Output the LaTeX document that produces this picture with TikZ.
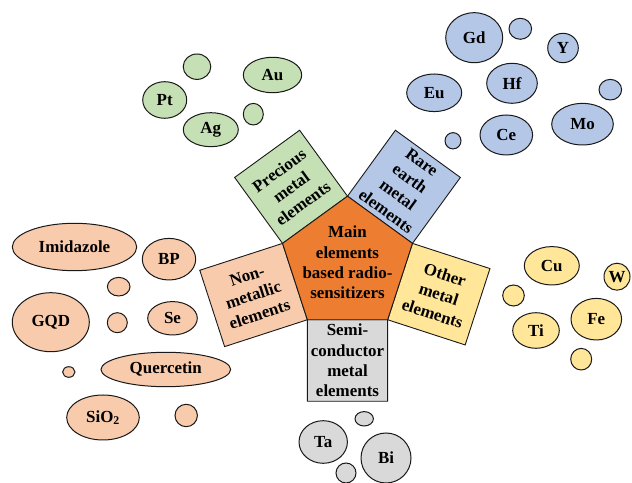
\documentclass[tikz,border=0pt]{standalone}
\usepackage{fontspec}
\setmainfont{Liberation Serif}
\usetikzlibrary{shapes.geometric,calc}
\definecolor{cgreen}{HTML}{C5E0B4}
\definecolor{cblue}{HTML}{B4C7E7}
\definecolor{cyellow}{HTML}{FFE699}
\definecolor{cpeach}{HTML}{F8CBAD}
\definecolor{cgray}{HTML}{D9D9D9}
\definecolor{corange}{HTML}{ED7D31}
\tikzset{
  lbl/.style={font=\fontsize{17}{20.4}\selectfont\bfseries, align=center, text=black},
  bub/.style={ellipse, draw=black!90, line width=1bp, inner sep=0pt, font=\fontsize{17}{20.4}\selectfont\bfseries},
  sz/.style 2 args={minimum width=#1bp, minimum height=#2bp},
  gb/.style={bub, fill=cgreen},
  bb/.style={bub, fill=cblue},
  yb/.style={bub, fill=cyellow},
  pb/.style={bub, fill=cpeach},
  sb/.style={bub, fill=cgray},
  panel/.style={draw=black!90, line width=0.9bp},
}
\begin{document}
\begin{tikzpicture}[x=1bp,y=1bp]
\useasboundingbox (0,0) rectangle (632,483);
\coordinate (C) at (347.5,218.5);
\def\R{68.3}
\def\S{81.5}
\path (C) ++(90:\R) coordinate (V1);
\path (C) ++(162:\R) coordinate (V2);
\path (C) ++(234:\R) coordinate (V3);
\path (C) ++(306:\R) coordinate (V4);
\path (C) ++(18:\R) coordinate (V5);
% squares
\draw[panel, fill=cgreen] (V1) -- (V2) -- ++(126:\S) -- ++(36:80.3) -- cycle;
\draw[panel, fill=cblue] (V5) -- (V1) -- ++(54:\S) -- ++(-36:80.3) -- cycle;
\draw[panel, fill=cyellow] (V4) -- (V5) -- ++(-18:\S) -- ++(-108:80.3) -- cycle;
\draw[panel, fill=cgray] (V3) -- (V4) -- ++(270:\S) -- ++(180:80.3) -- cycle;
\draw[panel, fill=cpeach] (V2) -- (V3) -- ++(198:87) -- ++(108:80.3) -- cycle;
% pentagon
\draw[panel, fill=corange] (V1) -- (V2) -- (V3) -- (V4) -- (V5) -- cycle;
% labels
\node[lbl] (main) at ($(C)+(0,2)$) {Main\\elements\\based radio-\\sensitizers};
\path (C) ++(126:96) node[lbl, rotate=36] (prec) {Precious\\metal\\elements};
\path (C) ++(54:96) node[lbl, rotate=-36] (rare) {Rare\\earth\\metal\\elements};
\path (C) ++(-18:96) node[lbl, rotate=-18] (other) {Other\\metal\\elements};
\path (C) ++(270:96) node[lbl] (semi) {Semi-\\conductor\\metal\\elements};
\path (C) ++(198:99) node[lbl, rotate=18] (nonm) {Non-\\metallic\\elements};
% green bubbles
\node[gb, sz={44}{36.6}] (pt) at (164.7,383) {Pt};
\node[gb, sz={27.6}{25.4}] (g1) at (197,416.3) {};
\node[gb, sz={58.4}{35.4}] (au) at (272.5,408) {Au};
\node[gb, sz={55}{34}] (ag) at (210.8,353.3) {Ag};
\node[gb, sz={20}{21.6}] (g2) at (253.3,368.8) {};
% blue bubbles
\node[bb, sz={57}{50}] (gd) at (474.2,445.3) {Gd};
\node[bb, sz={22.6}{21}] (b1) at (520.3,454.2) {};
\node[bb, sz={30.6}{29.4}] (y) at (563,435) {Y};
\node[bb, sz={50.6}{40}] (hf) at (512,399.7) {Hf};
\node[bb, sz={55}{37.6}] (eu) at (434.2,390.2) {Eu};
\node[bb, sz={22.6}{20.6}] (b2) at (610.3,393.3) {};
\node[bb, sz={61.6}{41.6}] (mo) at (582.5,358.8) {Mo};
\node[bb, sz={52.6}{40}] (ce) at (506.3,348) {Ce};
\node[bb, sz={16}{16.3}] (b3) at (453,342.2) {};
% peach bubbles
\node[pb, sz={124.4}{47.4}] (imi) at (74.5,236) {Imidazole};
\node[pb, sz={53.4}{41.6}] (bp) at (169,223.8) {BP};
\node[pb, sz={22.6}{18.6}] (p1) at (118.7,196.3) {};
\node[pb, sz={77}{59}] (gqd) at (50.8,160.8) {GQD};
\node[pb, sz={20}{20}] (p2) at (117.3,160.3) {};
\node[pb, sz={49.6}{33.4}] (se) at (172.5,164.7) {Se};
\node[pb, sz={12.4}{10.6}] (p3) at (68.8,111) {};
\node[pb, sz={129.6}{34.4}] (quer) at (165.8,113.5) {Quercetin};
\node[pb, sz={72.6}{45}] (sio) at (103,65.5) {SiO\textsubscript{2}};
\node[pb, sz={22.4}{22.4}] (p4) at (186.2,67.5) {};
% yellow bubbles
\node[yb, sz={55}{38.4}] (cu) at (551.8,217.2) {Cu};
\node[yb, sz={26}{27}] (w) at (617,206.3) {W};
\node[yb, sz={21.6}{21}] (y1) at (513.5,187.5) {};
\node[yb, sz={46.6}{35.6}] (ti) at (536,152.5) {Ti};
\node[yb, sz={50.6}{41.6}] (fe) at (596.3,163.8) {Fe};
\node[yb, sz={21}{21.6}] (y2) at (581.2,123.8) {};
% gray bubbles
\node[sb, sz={18.4}{14.4}] (s1) at (364.2,64.2) {};
\node[sb, sz={48.4}{42.6}] (ta) at (323.2,41) {Ta};
\node[sb, sz={50}{50}] (bi) at (386,25) {Bi};
\node[sb, sz={20}{20}] (s2) at (346,10) {};
\end{tikzpicture}
\end{document}
